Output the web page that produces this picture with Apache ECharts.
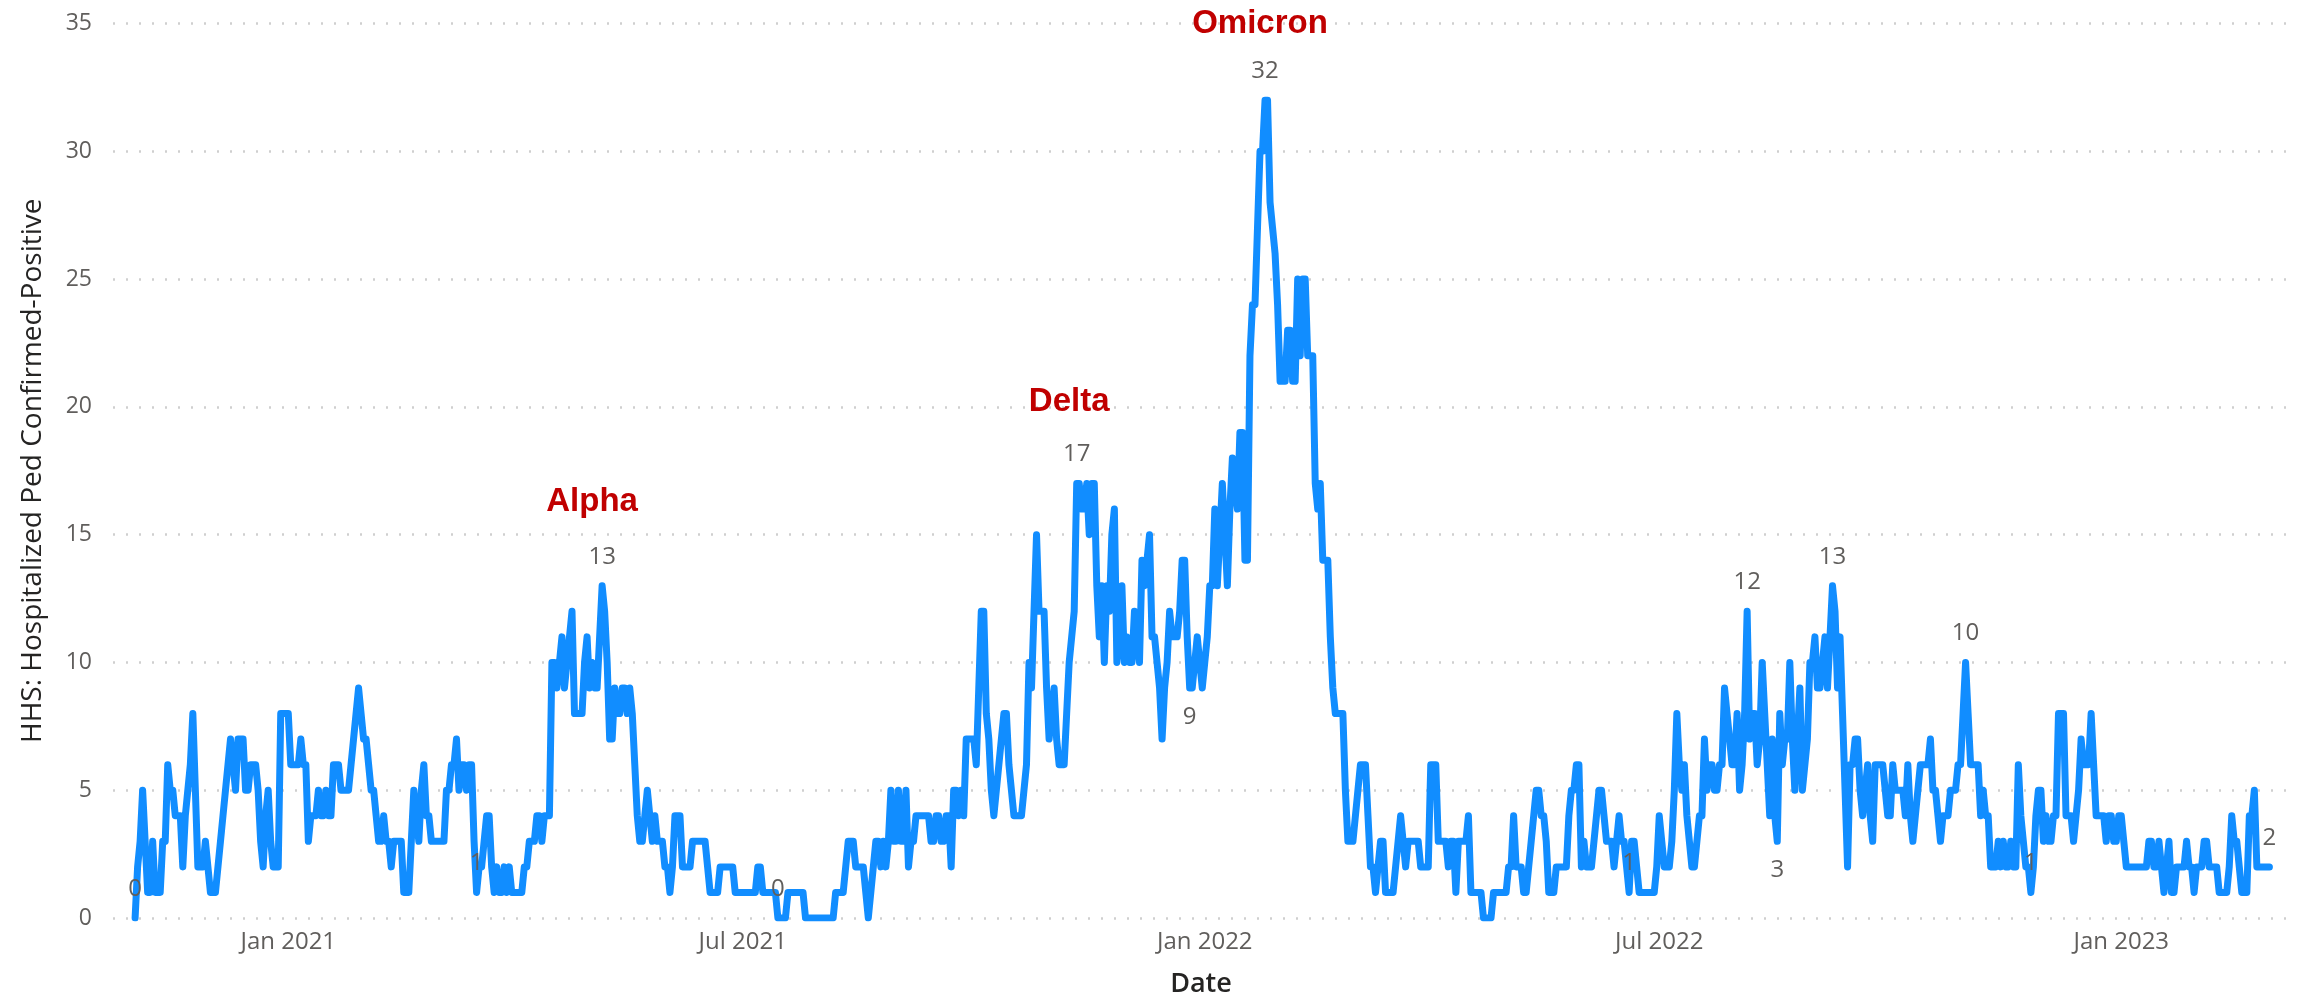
<!DOCTYPE html>
<html><head><meta charset="utf-8">
<script src="https://cdn.jsdelivr.net/npm/echarts@6/dist/echarts.min.js"></script>
<style>html,body{margin:0;padding:0;background:#fff}#c{width:2298px;height:1003px}</style>
</head><body><div id="c"></div>
<script>
// Daily values, one array per month, starting 2020-11-01
const startDate = [2020, 10, 1];
const nov2020 = [0,2,3,5,3,1,1,3,1,1,1,3,3,6,5,5,4,4,4,2,4,5,6,8,5,2,2,2,3,2];
const dec2020 = [1,1,1,2,3,4,5,6,7,6,5,7,7,7,5,5,6,6,6,5,3,2,4,5,3,2,2,2,8,8,8];
const jan2021 = [8,6,6,6,6,7,6,6,3,4,4,4,5,4,4,5,4,4,6,6,6,5,5,5,5,6,7,8,9,8,7];
const feb2021 = [7,6,5,5,4,3,3,4,3,3,2,3,3,3,3,1,1,1,3,5,4,3,5,6,4,4,3,3];
const mar2021 = [3,3,3,3,5,5,6,6,7,5,6,6,5,6,6,3,1,2,2,3,4,4,2,1,2,1,1,2,1,2,1];
const apr2021 = [1,1,1,1,2,2,3,3,3,4,4,3,4,4,4,10,10,9,10,11,9,10,11,12,8,8,8,8,10,11];
const may2021 = [9,10,9,9,11,13,12,10,7,7,9,8,8,9,9,8,9,8,6,4,3,3,4,5,4,3,4,3,3,3,2];
const jun2021 = [2,1,2,4,4,4,2,2,2,2,3,3,3,3,3,3,2,1,1,1,1,2,2,2,2,2,2,1,1,1];
const jul2021 = [1,1,1,1,1,1,2,2,1,1,1,1,1,1,0,0,0,0,1,1,1,1,1,1,1,0,0,0,0,0,0];
const aug2021 = [0,0,0,0,0,0,1,1,1,1,2,3,3,3,2,2,2,2,1,0,1,2,3,3,2,3,2,3,5,3,3];
const sep2021 = [5,3,3,5,2,3,3,4,4,4,4,4,4,3,3,4,4,3,3,4,4,2,5,5,4,5,4,7,7,7];
const oct2021 = [7,6,9,12,12,8,7,5,4,5,6,7,8,8,6,5,4,4,4,4,5,6,10,9,12,15,12,12,12,9,7];
const nov2021 = [8,9,7,6,6,6,8,10,11,12,17,17,16,16,17,15,17,17,13,11,13,10,13,12,15,16,10,11,13,10];
const dec2021 = [11,10,10,12,11,10,14,13,14,15,11,11,10,9,7,9,10,12,11,11,11,12,14,14,11,9,9,10,11,10,9];
const jan2022 = [10,11,13,13,16,13,15,17,15,13,16,18,17,16,19,19,14,14,22,24,24,27,30,30,32,32,28,27,26,24,21];
const feb2022 = [21,21,23,23,21,21,25,22,25,25,22,22,22,17,16,17,14,14,14,11,9,8,8,8,8,5,3,3];
const mar2022 = [3,4,5,6,6,6,4,2,2,1,2,3,3,1,1,1,1,2,3,4,3,2,3,3,3,3,3,2,2,2,2];
const apr2022 = [6,6,6,3,3,3,3,2,3,3,1,3,3,3,3,4,1,1,1,1,1,0,0,0,0,1,1,1,1,1];
const may2022 = [1,2,2,4,2,2,2,1,1,2,3,4,5,5,4,4,3,1,1,1,2,2,2,2,2,4,5,5,6,6,2];
const jun2022 = [3,2,2,2,3,4,5,5,4,3,3,3,2,3,4,3,3,2,1,3,3,2,1,1,1,1,1,1,1,2];
const jul2022 = [4,3,2,2,2,3,5,8,6,5,6,4,3,2,2,3,4,4,7,5,6,6,5,5,6,6,9,8,7,6,6];
const aug2022 = [8,5,6,8,12,7,8,8,6,7,10,8,6,4,7,4,3,8,6,7,7,10,7,5,7,9,5,6,7,10,10];
const sep2022 = [11,9,9,10,11,9,11,13,12,9,11,8,5,2,6,6,7,7,5,4,5,6,4,3,6,6,6,6,5,4];
const oct2022 = [4,6,5,5,5,5,4,6,4,3,4,5,6,6,6,6,7,5,5,4,3,4,4,4,5,5,5,6,6,8,10];
const nov2022 = [8,6,6,6,6,4,5,4,4,2,2,2,3,2,3,2,2,3,2,2,6,4,3,2,2,1,2,4,5,5];
const dec2022 = [3,4,3,3,4,4,8,8,8,4,4,4,3,4,5,7,6,6,6,8,6,4,4,4,4,3,4,4,3,3,4];
const jan2023 = [4,3,2,2,2,2,2,2,2,2,2,3,3,2,2,3,2,1,2,3,1,1,2,2,2,2,3,2,2,1,2];
const febMar2023 = [2,2,3,3,2,2,2,2,1,1,1,1,2,4,3,3,2,1,1,1,4,4,5,2,2,2,2,2,2];

// Points that carry a data label, and where the label sits
const labelDates = ['2020-11-01','2021-03-17','2021-05-06','2021-07-15','2021-11-11','2021-12-26','2022-01-25','2022-06-19','2022-08-05','2022-08-17','2022-09-08','2022-10-31','2022-11-26','2023-03-01'];
const labelPositions = ['top','top','top','top','top','bottom','top','top','top','bottom','top','top','top','top'];

// Variant annotations
const variantNames = ['Alpha','Delta','Omicron'];
const variantDates = ['2021-05-02','2021-11-08','2022-01-23'];
const variantLevels = [16.3, 20.2, 35];

// Axis tick labels
const tickDates = ['2021-01-01','2021-07-01','2022-01-01','2022-07-01','2023-01-01'];
const monthNames = ['Jan','Feb','Mar','Apr','May','Jun','Jul','Aug','Sep','Oct','Nov','Dec'];

const allValues = [].concat(nov2020,dec2020,jan2021,feb2021,mar2021,apr2021,may2021,jun2021,jul2021,aug2021,sep2021,oct2021,nov2021,dec2021,jan2022,feb2022,mar2022,apr2022,may2022,jun2022,jul2022,aug2022,sep2022,oct2022,nov2022,dec2022,jan2023,febMar2023);

function pad(n){return (n<10?'0':'')+n;}
function key(d){return d.getFullYear()+'-'+pad(d.getMonth()+1)+'-'+pad(d.getDate());}
function ts(s){const p=s.split('-').map(Number);return new Date(p[0],p[1]-1,p[2]).getTime();}

const DAY = 86400000;
const t0 = new Date(startDate[0], startDate[1], startDate[2]).getTime();
const data = allValues.map((v, i) => {
  const d = new Date(startDate[0], startDate[1], startDate[2] + i);
  const k = key(d);
  const li = labelDates.indexOf(k);
  if (li >= 0) {
    return {value: [d.getTime(), v], label: {show: true, position: labelPositions[li]}};
  }
  return [d.getTime(), v];
});
const nDays = allValues.length;

const labelFont = 'Open Sans, Noto Sans, sans-serif';

const chart = echarts.init(document.getElementById('c'), null, {renderer: 'canvas'});
chart.setOption({
  animation: false,
  backgroundColor: '#ffffff',
  grid: {left: 113, right: 9, top: 23.5, bottom: 81.3, containLabel: false},
  xAxis: {
    type: 'value',
    min: t0 - 8.8 * DAY,
    max: t0 + (nDays - 1 + 7.8) * DAY,
    name: 'Date',
    nameLocation: 'middle',
    nameGap: 53,
    nameTextStyle: {fontFamily: labelFont, fontSize: 27, fontWeight: 600, color: '#252423', verticalAlign: 'top'},
    axisLine: {show: false},
    axisTick: {show: false},
    splitLine: {show: false},
    axisLabel: {
      customValues: tickDates.map(ts),
      fontFamily: labelFont, fontSize: 24, color: '#605E5C', margin: 12,
      formatter: function (val) {
        const d = new Date(val);
        return monthNames[d.getMonth()] + ' ' + d.getFullYear();
      }
    }
  },
  yAxis: {
    type: 'value',
    min: 0, max: 35, interval: 5,
    name: 'HHS: Hospitalized Ped Confirmed-Positive',
    nameLocation: 'middle',
    nameGap: 66,
    nameTextStyle: {fontFamily: labelFont, fontSize: 28, color: '#252423'},
    axisLine: {show: false},
    axisTick: {show: false},
    axisLabel: {fontFamily: labelFont, fontSize: 23, color: '#605E5C', margin: 21},
    splitLine: {show: true, lineStyle: {color: '#CFCFCF', width: 2.5, type: [2, 11]}}
  },
  series: [{
    type: 'line',
    data: data,
    symbol: 'circle',
    symbolSize: 0,
    showSymbol: true,
    lineStyle: {color: '#118DFF', width: 7, cap: 'round', join: 'round'},
    itemStyle: {color: '#118DFF'},
    label: {show: false, fontFamily: labelFont, fontSize: 24, color: '#605E5C', distance: 17, formatter: p => p.value[1]},
    emphasis: {disabled: true},
    markPoint: {
      symbol: 'circle', symbolSize: 0,
      label: {show: true, position: 'inside', fontFamily: 'Liberation Sans, Arial, sans-serif', fontWeight: 'bold', fontSize: 33, color: '#C00000', formatter: p => p.name},
      data: variantNames.map((n, i) => ({name: n, coord: [ts(variantDates[i]), variantLevels[i]]}))
    }
  }]
});
</script>
</body></html>
